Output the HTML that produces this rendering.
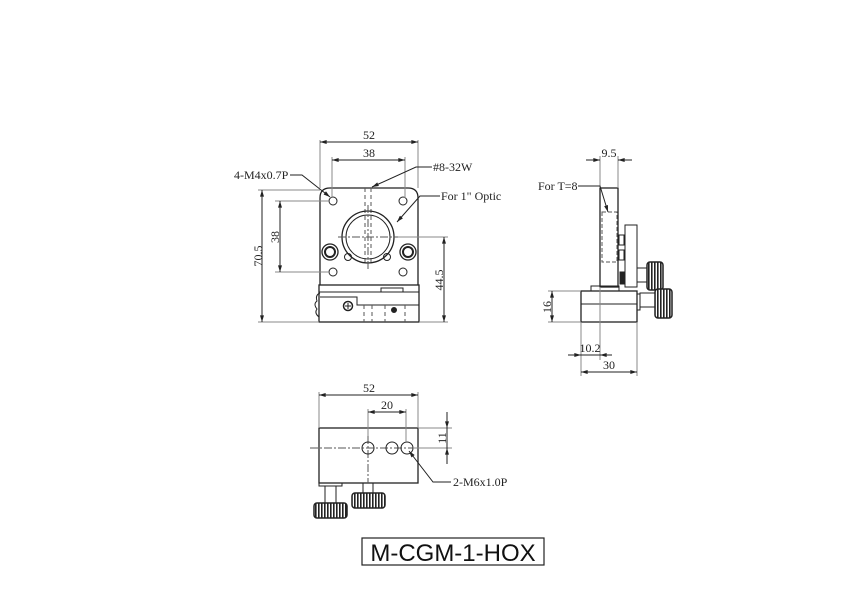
<!DOCTYPE html>
<html><head><meta charset="utf-8"><style>
html,body{margin:0;padding:0;background:#fff;}
svg{display:block;}
text{font-family:"Liberation Serif",serif;font-size:12px;fill:#222;}
</style></head><body>
<svg width="842" height="595" viewBox="0 0 842 595" xmlns="http://www.w3.org/2000/svg">
<defs>
<marker id="a" viewBox="0 0 10 6" refX="10" refY="3" markerWidth="8" markerHeight="4" orient="auto-start-reverse"><path d="M0,0L10,3L0,6z" fill="#222"/></marker>
<pattern id="kn" width="3" height="4" patternUnits="userSpaceOnUse"><rect width="3" height="4" fill="#fff"/><rect width="1.6" height="4" fill="#222"/></pattern>
</defs>
<g stroke="#222" fill="none" stroke-width="1">
<path d="M320,285 L320,198 Q320,188 330,188 L408,188 Q418,188 418,198 L418,285" stroke-width="1.3"/>
<line x1="319" y1="285" x2="419" y2="285"/>
<rect x="319" y="285" width="100" height="37" stroke-width="1.3"/>
<line x1="319" y1="292" x2="419" y2="292"/>
<rect x="381" y="288" width="22" height="4"/>
<path d="M320,297 L357,297 L357,305 L419,305"/>
<path d="M320,293 q-5,2 -3,8 q-4,3 0,8 q-3,4 2,8" />
<circle cx="348" cy="306" r="4.5" stroke-width="1.5"/>
<path d="M345,306h6M348,303v6"/>
<circle cx="394" cy="310" r="2.5" fill="#222"/>
<g stroke-dasharray="4,3" stroke="#555"><line x1="364" y1="305" x2="364" y2="322"/><line x1="372" y1="305" x2="372" y2="322"/><line x1="385" y1="305" x2="385" y2="322"/><line x1="405" y1="305" x2="405" y2="322"/>
<line x1="365" y1="188" x2="365" y2="262"/><line x1="371" y1="188" x2="371" y2="262"/></g>
<circle cx="333" cy="201" r="4"/><circle cx="403" cy="201" r="4"/>
<circle cx="333" cy="272" r="4"/><circle cx="403" cy="272" r="4"/>
<circle cx="348" cy="257" r="3.5"/><circle cx="387" cy="257" r="3.5"/>
<circle cx="368" cy="237" r="26" stroke-width="1.3"/><circle cx="368" cy="237" r="22"/>
<circle cx="330" cy="252" r="8" stroke-width="1.3"/><circle cx="330" cy="252" r="5" stroke-width="2"/>
<circle cx="408" cy="252" r="8" stroke-width="1.3"/><circle cx="408" cy="252" r="5" stroke-width="2"/>
<g stroke-dasharray="8,2,2,2" stroke="#555"><line x1="338" y1="237" x2="398" y2="237"/><line x1="368" y1="205" x2="368" y2="270"/></g>
<g stroke="#888"><line x1="320" y1="140" x2="320" y2="188"/><line x1="418" y1="140" x2="418" y2="188"/>
<line x1="332" y1="157" x2="332" y2="198"/><line x1="405" y1="157" x2="405" y2="198"/>
<line x1="258" y1="190" x2="320" y2="190"/><line x1="258" y1="322" x2="319" y2="322"/><line x1="419" y1="322" x2="448" y2="322"/>
<line x1="275" y1="201" x2="330" y2="201"/><line x1="275" y1="272" x2="330" y2="272"/><line x1="398" y1="237" x2="448" y2="237"/></g>
<line x1="320" y1="142" x2="418" y2="142" marker-start="url(#a)" marker-end="url(#a)"/>
<line x1="332" y1="160" x2="405" y2="160" marker-start="url(#a)" marker-end="url(#a)"/>
<line x1="262" y1="190" x2="262" y2="322" marker-start="url(#a)" marker-end="url(#a)"/>
<line x1="280" y1="201" x2="280" y2="272" marker-start="url(#a)" marker-end="url(#a)"/>
<line x1="444" y1="237" x2="444" y2="322" marker-start="url(#a)" marker-end="url(#a)"/>
<path d="M290,175 L302,175 L330,197" marker-end="url(#a)"/>
<path d="M432,167 L416,167 L372,187" marker-end="url(#a)"/>
<path d="M440,196 L420,196 L397,222" marker-end="url(#a)"/>
<rect x="600" y="188" width="18" height="99" stroke-width="1.3"/>
<rect x="602" y="212" width="15" height="50" stroke-dasharray="4,2" stroke="#555"/>
<rect x="625" y="225" width="12" height="62"/>
<rect x="619" y="235" width="5" height="10"/><rect x="619" y="250" width="5" height="10"/>
<rect x="620" y="272" width="5" height="12" fill="#222"/>
<rect x="591" y="286" width="28" height="5"/>
<rect x="581" y="291" width="56" height="31" stroke-width="1.3"/>
<line x1="581" y1="304" x2="637" y2="304"/>
<rect x="637" y="294" width="3" height="16"/>
<rect x="637" y="268" width="10" height="14"/><rect x="640" y="293" width="15" height="14"/>
<rect x="647" y="262" width="16" height="28" rx="3" fill="url(#kn)" stroke-width="1.5"/>
<rect x="655" y="289" width="17" height="29" rx="3" fill="url(#kn)" stroke-width="1.5"/>
<g stroke="#888"><line x1="600" y1="156" x2="600" y2="188"/><line x1="618" y1="156" x2="618" y2="188"/>
<line x1="548" y1="291" x2="581" y2="291"/><line x1="548" y1="322" x2="581" y2="322"/>
<line x1="581" y1="322" x2="581" y2="376"/><line x1="637" y1="322" x2="637" y2="376"/><line x1="600" y1="287" x2="600" y2="360"/></g>
<line x1="586" y1="160" x2="600" y2="160" marker-end="url(#a)"/><line x1="632" y1="160" x2="618" y2="160" marker-end="url(#a)"/>
<line x1="552" y1="291" x2="552" y2="322" marker-start="url(#a)" marker-end="url(#a)"/>
<line x1="568" y1="355" x2="581" y2="355" marker-end="url(#a)"/><line x1="581" y1="355" x2="600" y2="355"/><line x1="612" y1="355" x2="600" y2="355" marker-end="url(#a)"/>
<line x1="581" y1="372" x2="637" y2="372" marker-start="url(#a)" marker-end="url(#a)"/>
<path d="M578,186 L600,186 L608,212" marker-end="url(#a)"/>
<rect x="319" y="428" width="99" height="55" stroke-width="1.3"/>
<g stroke-dasharray="8,2,2,2" stroke="#555"><line x1="310" y1="448" x2="428" y2="448"/><line x1="368" y1="436" x2="368" y2="483"/></g>
<circle cx="368" cy="448" r="6"/><circle cx="392" cy="448" r="6"/><circle cx="407" cy="448" r="6"/>
<rect x="319" y="483" width="23" height="3"/>
<line x1="325" y1="486" x2="325" y2="503"/><line x1="336" y1="486" x2="336" y2="503"/>
<line x1="363" y1="483" x2="363" y2="493"/><line x1="373" y1="483" x2="373" y2="493"/>
<rect x="314" y="503" width="33" height="15" rx="3" fill="url(#kn)" stroke-width="1.5"/>
<rect x="352" y="493" width="33" height="15" rx="3" fill="url(#kn)" stroke-width="1.5"/>
<g stroke="#888"><line x1="319" y1="392" x2="319" y2="428"/><line x1="418" y1="392" x2="418" y2="428"/>
<line x1="368" y1="409" x2="368" y2="436"/><line x1="406" y1="409" x2="406" y2="442"/>
<line x1="418" y1="428" x2="452" y2="428"/><line x1="413" y1="448" x2="452" y2="448"/></g>
<line x1="319" y1="395" x2="418" y2="395" marker-start="url(#a)" marker-end="url(#a)"/>
<line x1="368" y1="412" x2="406" y2="412" marker-start="url(#a)" marker-end="url(#a)"/>
<line x1="447" y1="412" x2="447" y2="428" marker-end="url(#a)"/><line x1="447" y1="428" x2="447" y2="448"/><line x1="447" y1="464" x2="447" y2="448" marker-end="url(#a)"/>
<path d="M451,482 L433,482 L409,451" marker-end="url(#a)"/>
<rect x="362" y="538" width="182" height="27" stroke-width="1.2"/>
</g>
<text x="369" y="139" text-anchor="middle">52</text>
<text x="369" y="157" text-anchor="middle">38</text>
<text x="234" y="179">4-M4x0.7P</text>
<text x="433" y="171">#8-32W</text>
<text x="441" y="200">For 1" Optic</text>
<text transform="translate(262,256) rotate(-90)" text-anchor="middle">70.5</text>
<text transform="translate(279,237) rotate(-90)" text-anchor="middle">38</text>
<text transform="translate(443,280) rotate(-90)" text-anchor="middle">44.5</text>
<text x="609" y="157" text-anchor="middle">9.5</text>
<text x="538" y="190">For T=8</text>
<text transform="translate(551,307) rotate(-90)" text-anchor="middle">16</text>
<text x="590" y="352" text-anchor="middle">10.2</text>
<text x="609" y="369" text-anchor="middle">30</text>
<text x="369" y="392" text-anchor="middle">52</text>
<text x="387" y="409" text-anchor="middle">20</text>
<text transform="translate(446,438) rotate(-90)" text-anchor="middle">11</text>
<text x="453" y="486">2-M6x1.0P</text>
<text x="453" y="561" text-anchor="middle" style="font-family:'Liberation Sans',sans-serif;font-size:24px;fill:#111">M-CGM-1-HOX</text>
</svg>
</body></html>
